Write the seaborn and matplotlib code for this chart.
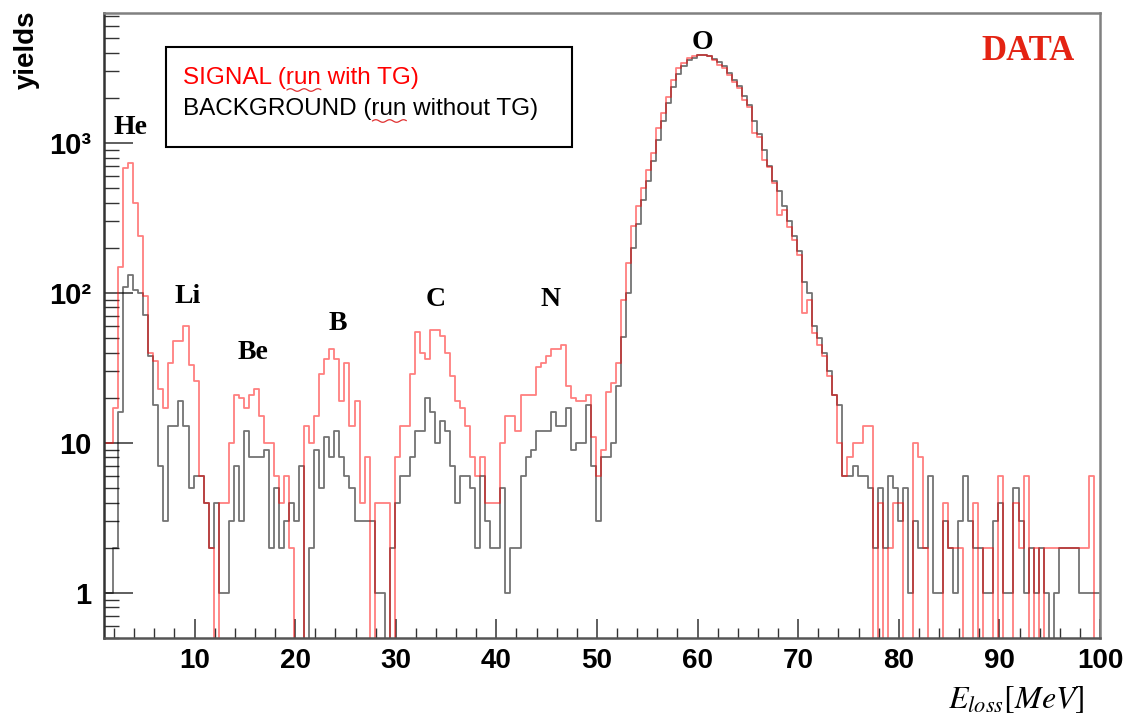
import numpy as np
import pandas as pd
import matplotlib
matplotlib.use("Agg")
import matplotlib.pyplot as plt
import matplotlib.ticker as mticker
from matplotlib.patches import Rectangle
from matplotlib.lines import Line2D
import seaborn as sns

# DATA
# ----
# energy-loss histogram: 0.5 MeV bins starting at 1.4 MeV (first bin clipped at the axis start)
x_min, x_max = 1.0, 100.0
hist_lo, bin_w, n_bins = 1.4, 0.5, 197

# counts per bin, run with target (red)
signal_counts = [
    10, 17, 150, 680, 740, 400, 240, 95, 40, 35,          # 1.5 - 6.0
    23, 17, 34, 48, 48, 60, 33, 26, 6, 4,                 # 6.5 - 11.0
    2, 0, 4, 4, 10, 21, 20, 17, 21, 23,                   # 11.5 - 16.0
    15, 10, 10, 6, 4, 6, 2, 0, 0, 13,                     # 16.5 - 21.0
    10, 15, 29, 36, 42, 36, 19, 34, 13, 19,               # 21.5 - 26.0
    4, 8, 0, 4, 4, 4, 0, 8, 13, 13,                       # 26.5 - 31.0
    29, 55, 40, 36, 57, 57, 52, 40, 28, 19,               # 31.5 - 36.0
    17, 13, 8, 6, 8, 4, 4, 4, 10, 15,                     # 36.5 - 41.0
    15, 12, 21, 21, 21, 32, 34, 38, 42, 42,               # 41.5 - 46.0
    45, 24, 20, 19, 19, 21, 11, 6, 9, 22,                 # 46.5 - 51.0
    25, 34, 90, 158, 280, 380, 500, 660, 860, 1250,       # 51.5 - 56.0
    1590, 2030, 2630, 3160, 3410, 3680, 3780, 3870, 3870, 3780,  # 56.5 - 61.0
    3590, 3330, 3160, 2850, 2570, 2330, 1950, 1750, 1170, 1100,  # 61.5 - 66.0
    770, 690, 540, 330, 360, 275, 225, 180, 73, 90,       # 66.5 - 71.0
    54, 45, 38, 28, 21, 10, 6, 8, 10, 10,                 # 71.5 - 76.0
    13, 13, 0, 4, 0, 2, 4, 4, 0, 0,                       # 76.5 - 81.0
    10, 8, 2, 0, 0, 0, 4, 2, 2, 2,                        # 81.5 - 86.0
    0, 0, 4, 0, 2, 2, 0, 6, 0, 0,                         # 86.5 - 91.0
    4, 2, 6, 0, 2, 0, 2, 2, 2, 2,                         # 91.5 - 96.0
    2, 2, 2, 2, 2, 6, 0,                                  # 96.5 - 99.5
]

# counts per bin, run without target (black)
background_counts = [
    1, 2, 16, 110, 132, 104, 100, 71, 38, 18,             # 1.5 - 6.0
    7, 3, 13, 13, 19, 13, 5, 6, 6, 4,                     # 6.5 - 11.0
    2, 4, 1, 1, 3, 7, 3, 12, 8, 8,                        # 11.5 - 16.0
    8, 9, 2, 5, 2, 3, 4, 3, 7, 0,                         # 16.5 - 21.0
    2, 9, 5, 11, 8, 12, 8, 6, 5, 3,                       # 21.5 - 26.0
    3, 3, 3, 1, 1, 0, 2, 4, 6, 6,                         # 26.5 - 31.0
    8, 12, 12, 20, 16, 10, 14, 12, 7, 4,                  # 31.5 - 36.0
    6, 6, 5, 2, 6, 3, 2, 2, 5, 1,                         # 36.5 - 41.0
    2, 2, 6, 8, 9, 12, 12, 12, 16, 13,                    # 41.5 - 46.0
    13, 17, 9, 10, 10, 18, 7, 3, 8, 8,                    # 46.5 - 51.0
    10, 24, 51, 100, 200, 290, 415, 560, 760, 1050,       # 51.5 - 56.0
    1400, 1850, 2350, 2900, 3250, 3550, 3700, 3850, 3880, 3820,  # 56.5 - 61.0
    3650, 3450, 3250, 2950, 2650, 2400, 2050, 1800, 1400, 1150,  # 61.5 - 66.0
    900, 700, 560, 480, 380, 300, 240, 190, 118, 100,     # 66.5 - 71.0
    60, 50, 40, 30, 21, 18, 6, 6, 7, 6,                   # 71.5 - 76.0
    6, 5, 2, 5, 2, 6, 5, 3, 5, 1,                         # 76.5 - 81.0
    3, 2, 2, 6, 1, 1, 3, 2, 1, 3,                         # 81.5 - 86.0
    6, 3, 2, 2, 1, 1, 3, 4, 1, 1,                         # 86.5 - 91.0
    5, 3, 1, 2, 1, 2, 1, 0, 1, 2,                         # 91.5 - 96.0
    2, 2, 2, 1, 1, 1, 1,                                  # 96.5 - 99.5
]

x_ticks = [10, 20, 30, 40, 50, 60, 70, 80, 90, 100]
y_ticks = [1, 10, 100, 1000]
y_tick_labels = ["1", "10", "10\u00b2", "10\u00b3"]

# peak labels: (text, energy, yield)
peak_labels = [("He", 3.6, 1260), ("Li", 9.35, 94), ("Be", 15.8, 40), ("B", 24.25, 63),
               ("C", 34.0, 90), ("N", 45.4, 90), ("O", 60.5, 4700)]

signal_label = "SIGNAL (run with TG)"
background_label = "BACKGROUND (run without TG)"

# PLOT
# ----
sns.set_style("white")
plt.rcParams["font.family"] = ["Liberation Sans", "DejaVu Sans"]
plt.rcParams["mathtext.fontset"] = "stix"
plt.rcParams["text.color"] = "black"

edges = hist_lo + bin_w * np.arange(n_bins + 1)
centres = edges[:-1] + bin_w / 2
# seaborn wants a plain list when weights are used; first bin starts at the axis edge
bin_edges = [x_min] + [float(e) for e in edges[1:]]
sig_df = pd.DataFrame({"E": centres, "counts": signal_counts})
bkg_df = pd.DataFrame({"E": centres, "counts": background_counts})

W, H = 1124, 722
fig = plt.figure(figsize=(W / 100, H / 100), dpi=100)
ax = fig.add_axes([104 / W, 1 - 638 / H, 996 / W, 625 / H])

sns.histplot(data=bkg_df, x="E", weights="counts", bins=bin_edges, element="step", fill=False,
             color="black", alpha=0.55, linewidth=1.3, ax=ax)
sns.histplot(data=sig_df, x="E", weights="counts", bins=bin_edges, element="step", fill=False,
             color="red", alpha=0.5, linewidth=1.3, ax=ax)

ax.set_yscale("log")
ax.set_xlim(x_min, x_max)
ax.set_ylim(0.5, 7360)
ax.set_xlabel("")
ax.set_ylabel("")

# ROOT-like axes: ticks inside, bold helvetica labels
ax.set_xticks(x_ticks, labels=[str(v) for v in x_ticks], fontsize=20, fontweight="bold")
ax.xaxis.set_minor_locator(mticker.MultipleLocator(2))
ax.set_yticks(y_ticks, labels=y_tick_labels, fontsize=21, fontweight="bold")
ax.yaxis.set_minor_locator(mticker.LogLocator(base=10, subs=np.arange(2, 10), numticks=20))
ax.yaxis.set_minor_formatter(mticker.NullFormatter())
ax.tick_params(axis="both", which="both", direction="in", color="#333333", labelcolor="black",
               bottom=True, left=True, top=False, right=False)
ax.tick_params(axis="x", which="major", length=13.5, width=1.1, pad=7)
ax.tick_params(axis="x", which="minor", length=7, width=1.0)
ax.tick_params(axis="y", which="major", length=21, width=1.1, pad=9)
ax.tick_params(axis="y", which="minor", length=11, width=1.0)

for side, col in [("left", "#333333"), ("bottom", "#555555"), ("top", "#808080"), ("right", "#808080")]:
    ax.spines[side].set_visible(True)
    ax.spines[side].set_color(col)
    ax.spines[side].set_linewidth(1.8)

# peak names
for name, ex, ey in peak_labels:
    ax.text(ex, ey, name, ha="center", va="center", fontsize=20, fontweight="bold",
            family=["Liberation Serif", "DejaVu Serif"], color="black", zorder=6)

# legend box (pasted on the slide, placed in figure pixels)
fig.add_artist(Rectangle((166 / W, 1 - 147 / H), 406 / W, 100 / H, transform=fig.transFigure,
                         facecolor="white", edgecolor="black", linewidth=1.5, zorder=5))
legend_fs = 17.5
t_sig = fig.text(183 / W, 1 - 78 / H, signal_label, color="red",
                 fontsize=legend_fs, va="center", ha="left", zorder=6)
t_bkg = fig.text(183 / W, 1 - 109 / H, background_label, color="black",
                 fontsize=legend_fs, va="center", ha="left", zorder=6)

# red spell-check squiggles under "run"
renderer = fig.canvas.get_renderer()
for t_line, prefix in [(t_sig, "SIGNAL ("), (t_bkg, "BACKGROUND (")]:
    x0, y0 = t_line.get_position()
    t_a = fig.text(x0, y0, prefix, fontsize=legend_fs, va="center", alpha=0)
    t_b = fig.text(x0, y0, prefix + "run", fontsize=legend_fs, va="center", alpha=0)
    b_a = t_a.get_window_extent(renderer)
    b_b = t_b.get_window_extent(renderer)
    xs = np.linspace(b_a.x1 + 1, b_b.x1, 30)
    ys = b_b.y0 - 1 + 1.3 * np.sin((xs - xs[0]) / 2.2)
    fx, fy = fig.transFigure.inverted().transform(np.column_stack([xs, ys])).T
    fig.add_artist(Line2D(fx, fy, color="#e03030", linewidth=0.9, zorder=7))
    t_a.remove()
    t_b.remove()

fig.text(27 / W, 1 - 50 / H, "yields", rotation=90, ha="center", va="center",
         fontsize=20, fontweight="bold", color="black")
fig.text(1028 / W, 1 - 51 / H, "DATA", ha="center", va="center", fontsize=25,
         fontweight="bold", color="#e42313", family=["Liberation Serif", "DejaVu Serif"])
fig.text(1016 / W, 1 - 700 / H, r"$E_{loss}[MeV]$", ha="center", va="center", fontsize=23,
         color="black")

fig.savefig("out.png", dpi=100)
plt.close(fig)
